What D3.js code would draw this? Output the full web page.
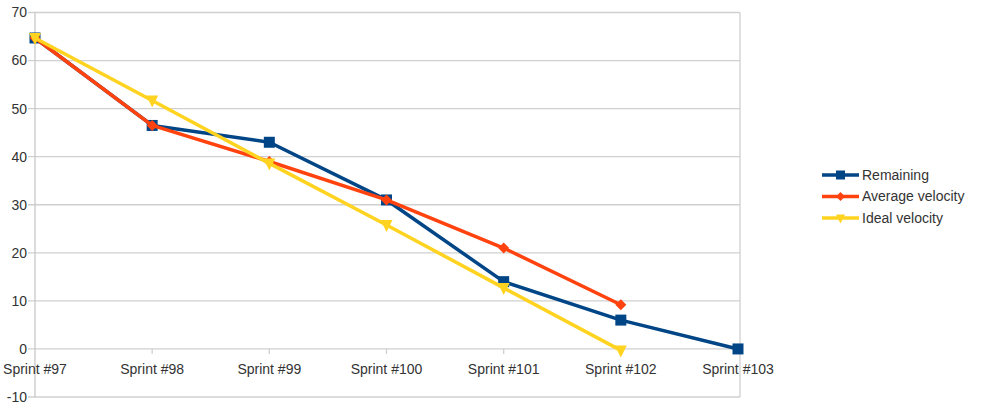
<!DOCTYPE html>
<html><head><meta charset="utf-8">
<script src="https://cdn.jsdelivr.net/npm/d3@7"></script>
<style>body{margin:0;background:#fff}svg{display:block}text{font-family:"Liberation Sans",Arial,sans-serif;fill:#333}</style>
</head><body><svg id="c" width="985" height="409"></svg>
<script>
const categories = ["Sprint #97","Sprint #98","Sprint #99","Sprint #100","Sprint #101","Sprint #102","Sprint #103"];
const remaining = [64.7, 46.5, 43, 31, 14, 6, 0];
const averageVelocity = [64.7, 46.5, 39, 31, 21, 9.2];
const idealVelocity = [64.7, 51.7, 38.6, 25.8, 12.7, -0.3];
const yTicks = [-10, 0, 10, 20, 30, 40, 50, 60, 70];
const seriesNames = ["Remaining","Average velocity","Ideal velocity"];

const series = [
  {name: seriesNames[0], values: remaining, color: "#004586", marker: "square"},
  {name: seriesNames[1], values: averageVelocity, color: "#ff420e", marker: "diamond"},
  {name: seriesNames[2], values: idealVelocity, color: "#ffd320", marker: "triangle"}
];

const svg = d3.select("#c");
const L = 35, R = 738, T = 12.5, B = 397;
const x = d3.scalePoint().domain(categories).range([L, R]);
const y = d3.scaleLinear().domain([-10, 70]).range([B, T]);

// gridlines
svg.append("g").selectAll("line").data(yTicks).join("line")
  .attr("x1", L - 7).attr("x2", R + 2)
  .attr("y1", d => y(d)).attr("y2", d => y(d))
  .attr("stroke", "#d0d0d0").attr("stroke-width", 1.3);
// plot border left/right
svg.append("line").attr("x1", L).attr("x2", L).attr("y1", T).attr("y2", B).attr("stroke", "#c8c8c8").attr("stroke-width", 1.3);
svg.append("line").attr("x1", R + 2).attr("x2", R + 2).attr("y1", T).attr("y2", B).attr("stroke", "#d0d0d0").attr("stroke-width", 1.3);

// y labels
svg.append("g").selectAll("text").data(yTicks).join("text")
  .attr("x", L - 8).attr("y", d => y(d)).attr("dy", "0.35em")
  .attr("text-anchor", "end").attr("font-size", 14).text(d => d);

// x ticks at zero line
svg.append("g").selectAll("line").data(categories.slice(1, -1)).join("line")
  .attr("x1", d => x(d)).attr("x2", d => x(d))
  .attr("y1", y(0)).attr("y2", y(0) + 5)
  .attr("stroke", "#d0d0d0").attr("stroke-width", 1.3);
svg.append("g").selectAll("text").data(categories).join("text")
  .attr("x", d => x(d)).attr("y", y(0) + 20)
  .attr("dy", "0.35em").attr("text-anchor", "middle").attr("font-size", 14).text(d => d);

function markerPath(type, s) {
  if (type === "square") return `M${-s/2},${-s/2}h${s}v${s}h${-s}Z`;
  if (type === "diamond") return `M0,${-s/2}L${s/2},0L0,${s/2}L${-s/2},0Z`;
  return `M${-s/2},${-s/2 + 1}L${s/2},${-s/2 + 1}L0,${s/2 + 1}Z`;
}
const msize = {square: 11, diamond: 11, triangle: 12};

const line = d3.line().x((d, i) => x(categories[i])).y(d => y(d));
// draw in order: remaining, average, ideal
series.forEach(s => {
  svg.append("path").attr("d", line(s.values)).attr("fill", "none")
    .attr("stroke", s.color).attr("stroke-width", 3.5).attr("stroke-linejoin", "round");
  svg.append("g").selectAll("path").data(s.values).join("path")
    .attr("transform", (d, i) => `translate(${x(categories[i])},${y(d)})`)
    .attr("d", markerPath(s.marker, msize[s.marker])).attr("fill", s.color);
});

// legend
const lg = svg.append("g");
series.forEach((s, i) => {
  const yy = 175 + i * 21.5;
  lg.append("line").attr("x1", 822).attr("x2", 859).attr("y1", yy).attr("y2", yy)
    .attr("stroke", s.color).attr("stroke-width", 3.5);
  lg.append("path").attr("transform", `translate(840.5,${yy})`).attr("d", markerPath(s.marker, 9)).attr("fill", s.color);
  lg.append("text").attr("x", 862).attr("y", yy).attr("dy", "0.35em").attr("font-size", 14).text(s.name);
});
</script></body></html>
